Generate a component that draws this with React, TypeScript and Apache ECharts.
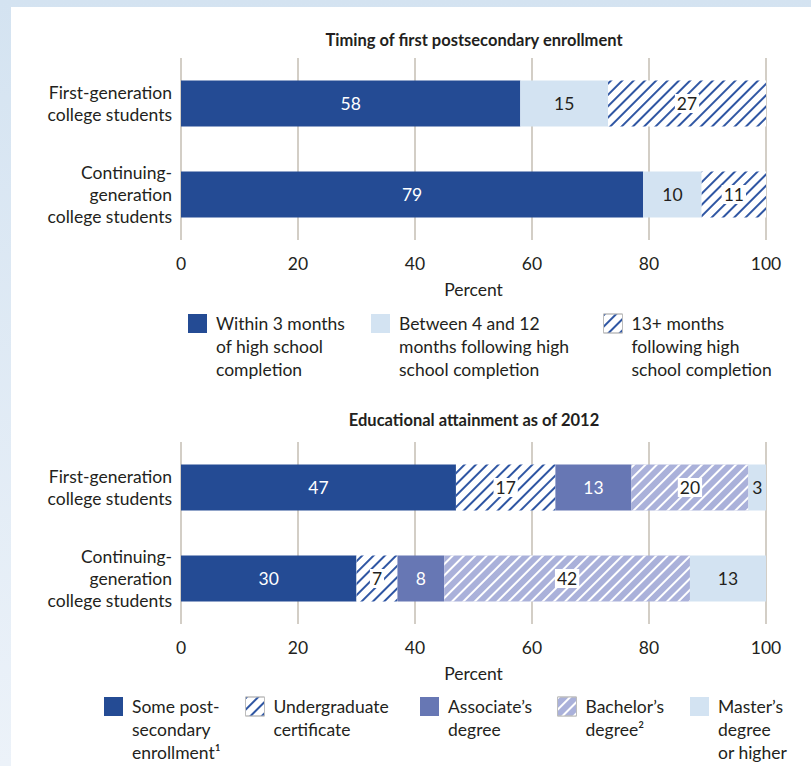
import React, { useEffect, useRef } from "react";
import * as echarts from "echarts";

const categories = ["First-generation\ncollege students", "Continuing-\ngeneration\ncollege students"];
const xTicks = [0, 20, 40, 60, 80, 100];

const timingTitle = "Timing of first postsecondary enrollment";
const timingNames = ["Within 3 months", "Between 4 and 12 months", "13+ months"];
const timingLegendLabels = [
  "Within 3 months\nof high school\ncompletion",
  "Between 4 and 12\nmonths following high\nschool completion",
  "13+ months\nfollowing high\nschool completion",
];
const within3 = [58, 79];
const between4to12 = [15, 10];
const months13plus = [27, 11];

const attainTitle = "Educational attainment as of 2012";
const attainNames = ["Some postsecondary enrollment", "Undergraduate certificate", "Associate's degree", "Bachelor's degree", "Master's degree or higher"];
const attainLegendLabels = [
  "Some post-\nsecondary\nenrollment\u00B9",
  "Undergraduate\ncertificate",
  "Associate\u2019s\ndegree",
  "Bachelor\u2019s\ndegree\u00B2",
  "Master\u2019s\ndegree\nor higher",
];
const somePostsecondary = [47, 30];
const undergradCert = [17, 7];
const associates = [13, 8];
const bachelors = [20, 42];
const masters = [3, 13];

const FONT = "Lato, 'Open Sans', sans-serif";
const TEXT = "#231f20";
const FS = 17.5;
const DARK = "#244b94";
const LIGHT = "#d3e3f2";
const ASSOC = "#6777b4";
const BACH = "#aab1da";

const hatchBlue = { symbol: "rect", symbolSize: 1, color: "#2f56a3", dashArrayX: [1, 0], dashArrayY: [1.3, 5.3], rotation: -Math.PI / 4 };
const hatchWhite = { symbol: "rect", symbolSize: 1, color: "#ffffff", dashArrayX: [1, 0], dashArrayY: [1.4, 5.2], rotation: -Math.PI / 4 };

export default function App() {
  const ref = useRef<HTMLDivElement>(null);
  useEffect(() => {
    if (!ref.current) return;
    const chart = echarts.init(ref.current, null, { renderer: "svg" });

    const grids = [
      { left: 181, width: 585, top: 58, height: 182 },
      { left: 181, width: 585, top: 442, height: 182 },
    ];
    const xAxis = grids.map((_, i) => ({
      type: "value",
      gridIndex: i,
      min: xTicks[0],
      max: xTicks[xTicks.length - 1],
      interval: 20,
      axisLine: { show: false },
      axisTick: { show: false },
      splitLine: { show: true, lineStyle: { color: "#c5beb3", width: 1.5 } },
      axisLabel: { margin: 14, fontSize: FS, color: TEXT, fontFamily: FONT },
      name: "Percent",
      nameLocation: "middle",
      nameGap: 40,
      nameTextStyle: { fontSize: FS, color: TEXT, fontFamily: FONT },
    }));
    const yAxis = grids.map((_, i) => ({
      type: "category",
      gridIndex: i,
      data: categories,
      inverse: true,
      axisLine: { show: false },
      axisTick: { show: false },
      axisLabel: { margin: 9, fontSize: FS, lineHeight: 22, color: TEXT, fontFamily: FONT },
    }));

    const lbl = (color: string, bg?: boolean) => ({
      show: true,
      position: "inside",
      fontSize: FS,
      fontFamily: FONT,
      color,
      ...(bg ? { backgroundColor: "#ffffff", padding: [1, 2, 0, 2] } : {}),
    });

    const bar = (name: string, data: number[], gi: number, itemStyle: any, label: any) => ({
      type: "bar",
      name,
      data,
      stack: "s" + gi,
      xAxisIndex: gi,
      yAxisIndex: gi,
      barWidth: 46,
      itemStyle,
      label,
      emphasis: { disabled: true },
    });

    const series = [
      bar(timingNames[0], within3, 0, { color: DARK }, lbl("#ffffff")),
      bar(timingNames[1], between4to12, 0, { color: LIGHT }, lbl(TEXT)),
      bar(timingNames[2], months13plus, 0, { color: "#ffffff", decal: hatchBlue }, lbl(TEXT, true)),
      bar(attainNames[0], somePostsecondary, 1, { color: DARK }, lbl("#ffffff")),
      bar(attainNames[1], undergradCert, 1, { color: "#ffffff", decal: hatchBlue }, lbl(TEXT, true)),
      bar(attainNames[2], associates, 1, { color: ASSOC }, lbl("#ffffff")),
      bar(attainNames[3], bachelors, 1, { color: BACH, decal: hatchWhite }, lbl(TEXT, true)),
      bar(attainNames[4], masters, 1, { color: LIGHT }, lbl(TEXT)),
    ];

    const LH = 23;
    const mkLegend = (name: string, label: string, left: number, iconTop: number, bordered: boolean) => {
      const n = label.split("\n").length;
      const padded = "\n".repeat(n - 1) + label;
      return {
        data: [name],
        left,
        top: iconTop - 1 - (n - 1) * LH,
        padding: 0,
        orient: "vertical",
        icon: "rect",
        itemWidth: 19,
        itemHeight: 19,
        selectedMode: false,
        formatter: () => padded,
        itemStyle: bordered ? { borderColor: "#bdbdbd", borderWidth: 1 } : { borderWidth: 0 },
        textStyle: { fontSize: FS, color: TEXT, fontFamily: FONT, lineHeight: LH, padding: [0, 0, 0, 4] },
      };
    };

    const legend = [
      mkLegend(timingNames[0], timingLegendLabels[0], 188, 313, false),
      mkLegend(timingNames[1], timingLegendLabels[1], 371, 313, false),
      mkLegend(timingNames[2], timingLegendLabels[2], 603, 313, true),
      mkLegend(attainNames[0], attainLegendLabels[0], 104, 696, false),
      mkLegend(attainNames[1], attainLegendLabels[1], 245, 696, true),
      mkLegend(attainNames[2], attainLegendLabels[2], 420, 696, false),
      mkLegend(attainNames[3], attainLegendLabels[3], 557, 696, true),
      mkLegend(attainNames[4], attainLegendLabels[4], 690, 696, false),
    ];

    chart.setOption({
      animation: false,
      textStyle: { fontFamily: FONT },
      grid: grids,
      xAxis,
      yAxis,
      series,
      legend,
      graphic: [
        { type: "text", x: 474, y: 40, style: { text: timingTitle, align: "center", verticalAlign: "middle", font: `bold 16.5px ${FONT}`, fill: TEXT } },
        { type: "text", x: 474, y: 420, style: { text: attainTitle, align: "center", verticalAlign: "middle", font: `bold 16.5px ${FONT}`, fill: TEXT } },
      ],
    });
    return () => chart.dispose();
  }, []);

  return (
    <div style={{ position: "absolute", left: 0, top: 0, width: 811, height: 766, background: "linear-gradient(to bottom, #d4e3f1, #ecf2f9)" }}>
      <div style={{ position: "absolute", left: 11, top: 7, right: 0, bottom: 0, background: "#ffffff" }} />
      <div ref={ref} style={{ position: "absolute", left: 0, top: 0, width: 811, height: 766 }} />
    </div>
  );
}
